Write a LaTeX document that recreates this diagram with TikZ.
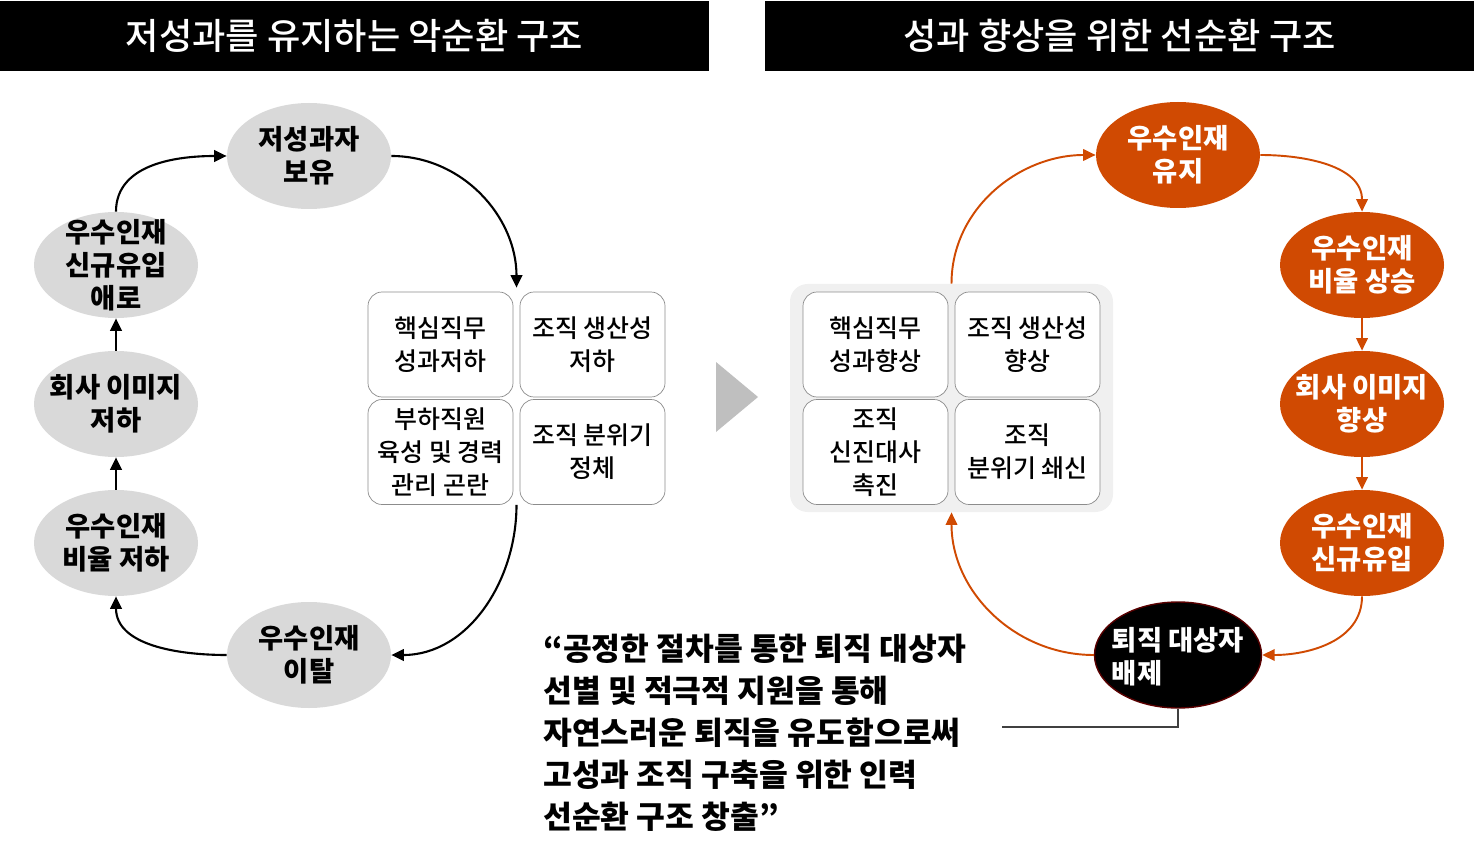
\documentclass[tikz,border=0pt]{standalone}
\usepackage{fontspec}
\setmainfont{Noto Sans CJK KR}
\newfontfamily\medfont{Noto Sans CJK KR Medium}
\usepackage{tikz}
\usetikzlibrary{positioning,arrows.meta,calc,shapes.geometric}
\definecolor{accent}{HTML}{D04A02}
\tikzset{
  flow/.style={-{Triangle[length=2.5mm,width=2.3mm]}, line width=1.2pt, draw=black},
  goodflow/.style={-{Triangle[length=2.5mm,width=2.3mm]}, line width=1.1pt,
    draw=accent},
  badnode/.style={ellipse, fill=black!15, minimum width=3.28cm,
    minimum height=2.12cm, inner xsep=-0.2cm, inner ysep=-0.25cm,
    align=center, font=\fontsize{15.6}{18.7}\selectfont\bfseries},
  goodnode/.style={badnode, fill=accent, text=white},
  cell/.style={draw=black!45, fill=white, rounded corners=8pt,
    minimum width=2.90cm, minimum height=2.10cm, inner sep=0pt, align=center,
    font=\medfont\fontsize{14.2}{18.7}\selectfont},
  headbar/.style={fill=black, text=white, minimum width=14.18cm,
    minimum height=1.40cm, inner sep=0pt,
    font=\medfont\fontsize{20.6}{22}\selectfont},
  quote/.style={anchor=north west, inner sep=0pt, align=left,
    font=\fontsize{17.8}{23.8}\selectfont\bfseries}
}

\begin{document}
\begin{tikzpicture}
  \useasboundingbox (0,0) rectangle (29.48,-16.98);

  \node[headbar] (lhead) at (7.09,-0.72) {저성과를 유지하는 악순환 구조};
  \node[headbar] (rhead) at (22.39,-0.72) {성과 향상을 위한 선순환 구조};

  % Vicious cycle.
  \node[badnode] (hold) at (6.18,-3.12) {저성과자\\보유};
  \node[badnode] (inflow) at (2.32,-5.30) {우수인재\\신규유입\\애로};
  \node[badnode] (image) at (2.32,-8.08) {회사 이미지\\저하};
  \node[badnode] (ratio) at (2.32,-10.86) {우수인재\\비율 저하};
  \node[badnode] (leave) at (6.18,-13.10) {우수인재\\이탈};

  \node[cell] (lc1) at (8.81,-6.89) {핵심직무\\성과저하};
  \node[cell] (lc2) at (11.85,-6.89) {조직 생산성\\저하};
  \node[cell] (lc3) at (8.81,-9.04) {부하직원\\육성 및 경력\\관리 곤란};
  \node[cell] (lc4) at (11.85,-9.04) {조직 분위기\\정체};

  \coordinate (ltop) at ($(lc1.north east)!0.5!(lc2.north west)+(0,0.08)$);
  \coordinate (lbot) at ($(lc3.south east)!0.5!(lc4.south west)$);

  \draw[flow] (hold.east) to[out=0,in=90] (ltop);
  \draw[flow] (lbot) to[out=-90,in=0] (leave.east);
  \draw[flow] (leave.west) to[out=180,in=-90] (ratio.south);
  \draw[flow] (ratio.north) -- (image.south);
  \draw[flow] (image.north) -- (inflow.south);
  \draw[flow] (inflow.north) to[out=90,in=180] (hold.west);

  \fill[black!25] (14.32,-7.24) -- (15.16,-7.94) -- (14.32,-8.64) -- cycle;

  % Virtuous cycle.
  \node[fill=black!6, rounded corners=10pt, minimum width=6.46cm,
    minimum height=4.56cm] (rgrid) at (19.03,-7.96) {};
  \node[cell] (rc1) at (17.51,-6.89) {핵심직무\\성과향상};
  \node[cell] (rc2) at (20.55,-6.89) {조직 생산성\\향상};
  \node[cell] (rc3) at (17.51,-9.04) {조직\\신진대사\\촉진};
  \node[cell] (rc4) at (20.55,-9.04) {조직\\분위기 쇄신};

  \node[goodnode] (keep) at (23.56,-3.10) {우수인재\\유지};
  \node[goodnode] (rise) at (27.24,-5.30) {우수인재\\비율 상승};
  \node[goodnode] (imgup) at (27.24,-8.08) {회사 이미지\\향상};
  \node[goodnode] (newin) at (27.24,-10.86) {우수인재\\신규유입};
  \node[goodnode, fill=black, draw=red!35!black, line width=0.8pt,
    align=left, minimum width=3.34cm, text depth=0pt] (exclude) at (23.56,-13.10)
    {퇴직 대상자\\배제};

  \draw[goodflow] (rgrid.north) to[out=90,in=180] (keep.west);
  \draw[goodflow] (keep.east) to[out=0,in=90] (rise.north);
  \draw[goodflow] (rise.south) -- (imgup.north);
  \draw[goodflow] (imgup.south) -- (newin.north);
  \draw[goodflow] (newin.south) to[out=-90,in=0] (exclude.east);
  \draw[goodflow] (exclude.west) to[out=180,in=-90] (rgrid.south);

  \node[quote] (msg) at (10.86,-12.68)
    {“공정한 절차를 통한 퇴직 대상자\\선별 및 적극적 지원을 통해\\자연스러운 퇴직을 유도함으로써\\고성과 조직 구축을 위한 인력\\선순환 구조 창출”};
  \coordinate (qtail) at (20.04,-14.54);
  \draw[black!75, line width=0.6pt] (exclude.south) |- (qtail);
\end{tikzpicture}
\end{document}
